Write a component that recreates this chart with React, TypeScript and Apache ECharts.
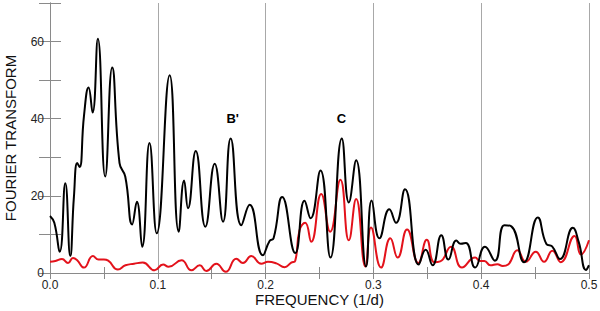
import React, { useEffect, useRef } from "react";
import * as echarts from "echarts";

// Black curve: [frequency (1/d), amplitude]
const blackCurve: [number, number][] = [
  [0.0, 14.8], [0.004, 13], [0.009, 5.5], [0.0142, 23.3], [0.0188, 4.4],
  [0.0222, 19.8], [0.0253, 28.5], [0.0275, 27.5], [0.0315, 40.7], [0.0358, 48.1],
  [0.0395, 41.6], [0.0444, 60.7], [0.0512, 25], [0.0577, 53.3], [0.0645, 28.5],
  [0.0698, 25], [0.0762, 12.6], [0.0806, 18.5], [0.0855, 6.8], [0.0923, 33.7],
  [0.099, 10.3], [0.111, 51.3], [0.1194, 10.7], [0.1244, 24], [0.128, 16.8],
  [0.1352, 31.6], [0.1441, 12], [0.1528, 28.3], [0.1605, 13.3], [0.1676, 34.9],
  [0.1775, 12.4], [0.1852, 17.7], [0.1975, 4.6], [0.2037, 8.3], [0.2074, 9],
  [0.2154, 19.7], [0.2275, 5.2], [0.2361, 18.7], [0.2417, 14.2], [0.2509, 26.6],
  [0.2602, 4], [0.2707, 34.9], [0.2772, 18.3], [0.284, 29.2], [0.2932, 1.7],
  [0.2984, 18.8], [0.3056, 9], [0.3148, 16.5], [0.321, 13], [0.3293, 21.7],
  [0.342, 2.2], [0.3485, 6], [0.3549, 2], [0.363, 9.8], [0.3696, 3.5],
  [0.377, 8.4], [0.381, 7.6], [0.3858, 7.8], [0.3944, 1.4], [0.4035, 6.8],
  [0.4127, 3.2], [0.4215, 12.4], [0.428, 12.1], [0.4398, 2.8], [0.4525, 14.4],
  [0.4605, 7.5], [0.4658, 6.9], [0.4731, 3.6], [0.485, 11.7], [0.4905, 8],
  [0.4972, 0.8], [0.5, 2]
];

// Red curve: [frequency (1/d), amplitude]
const redCurve: [number, number][] = [
  [0.0, 2.9], [0.005, 3.1], [0.0111, 3.6], [0.0167, 2.6], [0.0213, 3.9],
  [0.025, 3.4], [0.0315, 1.4], [0.0398, 4.4], [0.045, 3.5], [0.05, 3.5],
  [0.054, 3.2], [0.063, 0.9], [0.07, 2], [0.078, 2.4], [0.0861, 2.7],
  [0.097, 0.7], [0.1049, 2.2], [0.11, 1.6], [0.122, 3.3], [0.1312, 0.7],
  [0.1389, 2.0], [0.145, 0.5], [0.1543, 2.4], [0.163, 0.3], [0.1728, 3.7],
  [0.179, 2.6], [0.1867, 4.4], [0.196, 2.4], [0.2022, 2.9], [0.21, 2.5],
  [0.2176, 1.5], [0.2238, 2.7], [0.2275, 3.2], [0.2315, 11.1], [0.2367, 13],
  [0.2423, 8.1], [0.2516, 20.5], [0.2599, 10.7], [0.2694, 24.2], [0.2772, 8.5],
  [0.284, 19.2], [0.2926, 1.7], [0.2978, 11.8], [0.3071, 1.4], [0.3157, 9],
  [0.3225, 4], [0.3312, 11.3], [0.3417, 2.6], [0.3495, 8.6], [0.3565, 2.8],
  [0.362, 3], [0.372, 6.8], [0.3821, 1.4], [0.3944, 4], [0.399, 3.1],
  [0.403, 3.1], [0.4085, 2], [0.415, 2.3], [0.42, 1.8], [0.425, 2.2],
  [0.4336, 5.9], [0.4414, 2.9], [0.4506, 5.5], [0.4583, 2.9], [0.466, 5.8],
  [0.4738, 2.8], [0.4866, 9.6], [0.4925, 4.8], [0.5, 8.5]
];

// Peak annotations: [label, frequency, value]
const annotations: [string, number, number][] = [
  ["B'", 0.1694, 40.1],
  ["C", 0.2704, 40.1]
];

const xTickLabels = ["0.0", "0.1", "0.2", "0.3", "0.4", "0.5"];
const yTickLabels = ["0", "20", "40", "60"];

const FONT = "'Liberation Sans', Arial, Helvetica, sans-serif";
const AXIS_GRAY = "#8a8a8a";

export default function App() {
  const ref = useRef<HTMLDivElement>(null);

  useEffect(() => {
    document.body.style.margin = "0";
    if (!ref.current) return;
    const chart = echarts.init(ref.current, null, { renderer: "svg" });

    const commonX = {
      type: "value" as const,
      min: 0,
      max: 0.5,
      interval: 0.1,
      axisLine: { show: true, lineStyle: { color: AXIS_GRAY, width: 1 } },
      axisTick: {
        show: true,
        inside: true,
        length: 6,
        lineStyle: { color: AXIS_GRAY, width: 1 }
      },
      minorTick: {
        show: true,
        splitNumber: 2,
        length: 6,
        lineStyle: { color: AXIS_GRAY, width: 1 }
      },
      minorSplitLine: { show: false }
    };
    const commonY = {
      type: "value" as const,
      min: 0,
      max: 70,
      interval: 10,
      axisLine: { show: true, lineStyle: { color: AXIS_GRAY, width: 1 } },
      axisTick: {
        show: true,
        inside: true,
        length: 11,
        lineStyle: { color: AXIS_GRAY, width: 1 }
      },
      splitLine: { show: false }
    };

    chart.setOption({
      animation: false,
      backgroundColor: "#ffffff",
      grid: {
        left: 50,
        right: 11,
        top: 3,
        bottom: 38,
        containLabel: false,
        outerBoundsMode: "none"
      },
      xAxis: [
        {
          ...commonX,
          position: "bottom",
          splitLine: { show: true, lineStyle: { color: "#a8a8a8", width: 1 } },
          axisLabel: {
            show: true,
            margin: 5,
            lineHeight: 13,
            color: "#222",
            fontFamily: FONT,
            fontSize: 12,
            formatter: (v: number) => {
              const s = v.toFixed(1);
              return xTickLabels.includes(s) ? s : "";
            }
          },
          name: "FREQUENCY (1/d)",
          nameLocation: "middle",
          nameGap: 19,
          nameMoveOverlap: false,
          nameTextStyle: { color: "#111", fontFamily: FONT, fontSize: 15 }
        },
        {
          ...commonX,
          position: "top",
          splitLine: { show: false },
          axisLabel: { show: false }
        }
      ],
      yAxis: [
        {
          ...commonY,
          position: "left",
          axisLabel: {
            show: true,
            margin: 6,
            color: "#222",
            fontFamily: FONT,
            fontSize: 12,
            formatter: (v: number) => {
              const s = String(Math.round(v));
              return yTickLabels.includes(s) ? s : "";
            }
          },
          name: "FOURIER TRANSFORM",
          nameLocation: "middle",
          nameGap: 32,
          nameMoveOverlap: false,
          nameTextStyle: { color: "#111", fontFamily: FONT, fontSize: 15 }
        },
        {
          ...commonY,
          position: "right",
          axisLabel: { show: false }
        }
      ],
      series: [
        {
          type: "line",
          data: redCurve,
          smooth: 0.5,
          showSymbol: false,
          symbol: "none",
          lineStyle: { color: "#e3121b", width: 2 },
          z: 2
        },
        {
          type: "line",
          data: blackCurve,
          smooth: 0.5,
          showSymbol: false,
          symbol: "none",
          lineStyle: { color: "#000000", width: 2 },
          z: 3,
          markPoint: {
            symbol: "circle",
            symbolSize: 0,
            silent: true,
            label: {
              show: true,
              position: "inside",
              color: "#000",
              fontFamily: FONT,
              fontSize: 13,
              fontWeight: "bold",
              formatter: (p: any) => p.name
            },
            data: annotations.map(([name, f, v]) => ({ name, coord: [f, v] }))
          }
        }
      ]
    });

    return () => chart.dispose();
  }, []);

  return <div ref={ref} style={{ width: 600, height: 311 }} />;
}
